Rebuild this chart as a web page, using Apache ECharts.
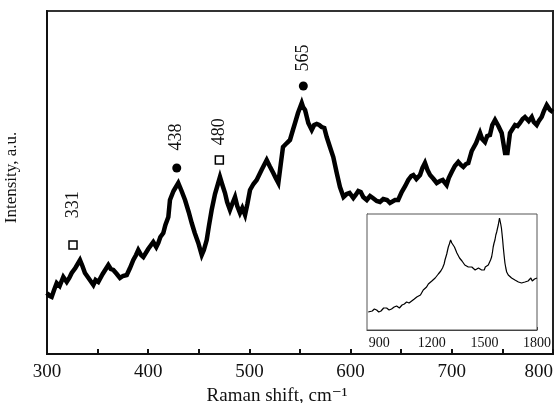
<!DOCTYPE html>
<html>
<head>
<meta charset="utf-8">
<script src="https://cdn.jsdelivr.net/npm/echarts@6/dist/echarts.min.js"></script>
<style>
html,body{margin:0;padding:0;background:#fff;}
#chart{width:559px;height:403px;}
</style>
</head>
<body>
<div id="chart"></div>
<script>
// Raman spectrum, main panel (300-800 cm-1)
var ramanShift = [300,302.5,304.6,307,309.6,312.5,316.1,319.5,322,324.4,328,332.6,335,337.5,341,345.8,348,350.7,355,360.6,363,365.5,369,372.1,375,378.8,382,385.3,388,390.2,393,395.2,400,405,408,410,412,414.9,417,419.9,421.5,425,429.7,433,436.4,440,443,446,449.5,452.9,455,457.8,460,462.7,466,470.9,473,475.9,478,480.8,483,485.8,488,490.7,493,495.7,498,500.6,504,507.2,512,517.1,520,523.6,526,528.6,531,533.2,537,540.1,543,545.1,548,551.7,553,555,558.2,561.6,564,566.5,569,571.4,574,576.4,579.6,582.9,586.3,589.5,593,596.1,599,602.7,605,607.6,610,612.5,616,619.2,622,625.8,629,632.3,636,638.9,643.9,647,650.5,654,657,660,662,665,668.6,671,673.5,676,678.5,682,685.1,688.3,691,694.9,697,699.9,703,706.4,709,711.4,714,716.3,719.7,724,727.9,730,732.8,735,737.7,740,742.7,746,749.3,752.6,755,757.5,760,762.5,765,767.4,770,772.3,776,779,781,783.9,786,788.8,791,793.8,797,800];
var intensity  = [61,58,57,64,71,68,77,72,76,81,86,94,88,81,76,69,74,72,80,89,85,84,80,76,78,79,86,94,99,104,99,97,105,112,107,111,117,121,129,137,154,163,171,163,154,142,131,121,111,99,104,114,128,144,160,177,170,161,152,144,150,157,148,141,146,139,150,164,170,174,184,194,188,181,176,171,190,207,211,214,224,231,241,251,247,244,231,224,229,230,229,227,226,217,207,197,181,167,157,160,161,156,159,163,162,157,154,158,156,153,152,155,154,151,154,154,162,168,174,178,179,175,179,186,191,184,179,175,171,173,174,169,176,182,188,192,189,187,190,191,203,211,221,215,212,218,219,229,234,228,221,201,201,221,225,229,228,231,235,237,233,237,232,229,233,237,243,249,244,242,234,236];

// marked bands
var bandPos    = [325.7,428.2,470.3,553.3];
var bandY      = [109,186,194,268];
var bandLabels = ['331','438','480','565'];
var bandShape  = ['rect','circle','rect','circle'];
var bandGap    = [22,13,10,10];

// inset spectrum (830-1800 cm-1)
var insetShift = [837,848,860,872,885,897,910,925,942,956,970,985,999,1015,1030,1043,1056,1070,1085,1100,1114,1125,1135,1143,1151,1160,1170,1180,1189,1200,1210,1219,1228,1237,1245,1251,1256,1261,1266,1270,1275,1280,1285,1290,1294,1297,1300,1304,1307,1311,1314,1318,1322,1329,1336,1343,1351,1358,1365,1372,1379,1388,1398,1408,1418,1428,1437,1447,1456,1466,1475,1484,1493,1499,1505,1510,1516,1522,1528,1535,1541,1546,1550,1555,1560,1565,1570,1575,1579,1583,1586,1590,1593,1597,1600,1604,1608,1612,1617,1622,1627,1636,1645,1655,1665,1674,1684,1694,1703,1712,1722,1731,1741,1749,1757,1765,1773,1786,1800];
var insetInt   = [18,20,19,21,20,18,19,22,22,20,21,23,24,22,25,26,28,27,29,31,33,32,35,37,40,41,43,46,48,49,51,52,53,56,57,59,60,62,64,66,70,73,76,80,83,85,86,88,90,88,87,86,85,83,80,77,75,72,70,69,67,65,64,63,62,63,61,60,61,62,61,60,62,60,63,61,63,65,67,70,73,78,83,87,90,95,98,102,105,109,112,110,106,102,97,90,82,75,67,62,58,55,53,52,51,50,50,48,49,47,49,48,50,49,50,52,49,51,52];
var insetXLabels = [900,1200,1500,1800];
var insetXTicks  = [900,1050,1200,1350,1500,1650,1800];
var insetYTicks  = [18,31,44,62,78,104];

var serif = '"Liberation Serif","DejaVu Serif",serif';
var chart = echarts.init(document.getElementById('chart'));

var mainLine = [];
for (var i = 0; i < ramanShift.length; i++) mainLine.push([ramanShift[i], intensity[i]]);
var insetLine = [];
for (var j = 0; j < insetShift.length; j++) insetLine.push([insetShift[j], insetInt[j]]);
var bands = [];
for (var k = 0; k < bandPos.length; k++) {
    var isRect = bandShape[k] === 'rect';
    bands.push({
        value: [bandPos[k], bandY[k]],
        symbol: bandShape[k],
        symbolSize: isRect ? 8 : 9,
        itemStyle: isRect ? {color:'#fff', borderColor:'#000', borderWidth:1.5, opacity:1} : {color:'#000', opacity:1},
        label: {
            show: true, formatter: bandLabels[k], position: 'top', distance: bandGap[k],
            rotate: 90, align: 'left', verticalAlign: 'middle',
            fontFamily: serif, fontSize: 18, color: '#111'
        }
    });
}

var option = {
    animation: false,
    backgroundColor: '#fff',
    grid: [
        {left:47, right:6, top:11, bottom:49, show:true, borderColor:'#333', borderWidth:2, outerBoundsMode:'none', containLabel:false},
        {left:367, right:22, top:214, bottom:73, show:true, borderColor:'#555', borderWidth:1, backgroundColor:'#fff', z:5, outerBoundsMode:'none', containLabel:false}
    ],
    xAxis: [
        {
            gridIndex:0, type:'value', min:300, max:800, interval:100,
            name:'Raman shift, cm⁻¹', nameLocation:'middle', nameGap:26,
            nameTextStyle:{fontFamily:serif, fontSize:19, color:'#111', padding:[0,46,0,0]},
            axisLine:{lineStyle:{color:'#111', width:2}},
            axisTick:{inside:true, length:5, lineStyle:{color:'#111', width:2}},
            minorTick:{show:true, splitNumber:2, length:5, lineStyle:{color:'#111', width:2}},
            splitLine:{show:false},
            axisLabel:{fontFamily:serif, fontSize:19, color:'#111', margin:9, alignMaxLabel:'right'}
        },
        {
            gridIndex:1, type:'value', min:830, max:1800,
            axisLine:{lineStyle:{color:'#333', width:1}},
            axisTick:{inside:true, length:3, customValues:insetXTicks, lineStyle:{color:'#333'}},
            splitLine:{show:false},
            axisLabel:{customValues:insetXLabels, formatter:function(v){return String(v);}, fontFamily:serif, fontSize:14, color:'#111', margin:6}
        }
    ],
    yAxis: [
        {
            gridIndex:0, type:'value', min:0, max:343,
            name:'Intensity, a.u.', nameLocation:'middle', nameGap:27,
            nameTextStyle:{fontFamily:serif, fontSize:17, color:'#111', padding:[0,0,0,10]},
            axisLine:{show:true, lineStyle:{color:'#111', width:2}},
            axisTick:{show:false}, axisLabel:{show:false}, splitLine:{show:false}
        },
        {
            gridIndex:1, type:'value', min:0, max:116,
            axisLine:{show:true, lineStyle:{color:'#333', width:1}},
            axisTick:{inside:true, length:3, customValues:insetYTicks, lineStyle:{color:'#333'}},
            axisLabel:{show:false}, splitLine:{show:false}
        },
        {
            // right edge of the main frame
            gridIndex:0, type:'value', position:'right', min:0, max:343,
            axisLine:{show:true, lineStyle:{color:'#222', width:2}},
            axisTick:{show:false}, axisLabel:{show:false}, splitLine:{show:false}
        }
    ],
    series: [
        {
            type:'line', xAxisIndex:0, yAxisIndex:0, data:mainLine,
            showSymbol:false, lineStyle:{color:'#000', width:4.5, join:'miter'}, z:2
        },
        {
            type:'scatter', xAxisIndex:0, yAxisIndex:0, data:bands, z:3
        },
        {
            type:'line', xAxisIndex:1, yAxisIndex:1, data:insetLine,
            showSymbol:false, lineStyle:{color:'#000', width:1.2}, z:6
        }
    ]
};
chart.setOption(option);
</script>
</body>
</html>
